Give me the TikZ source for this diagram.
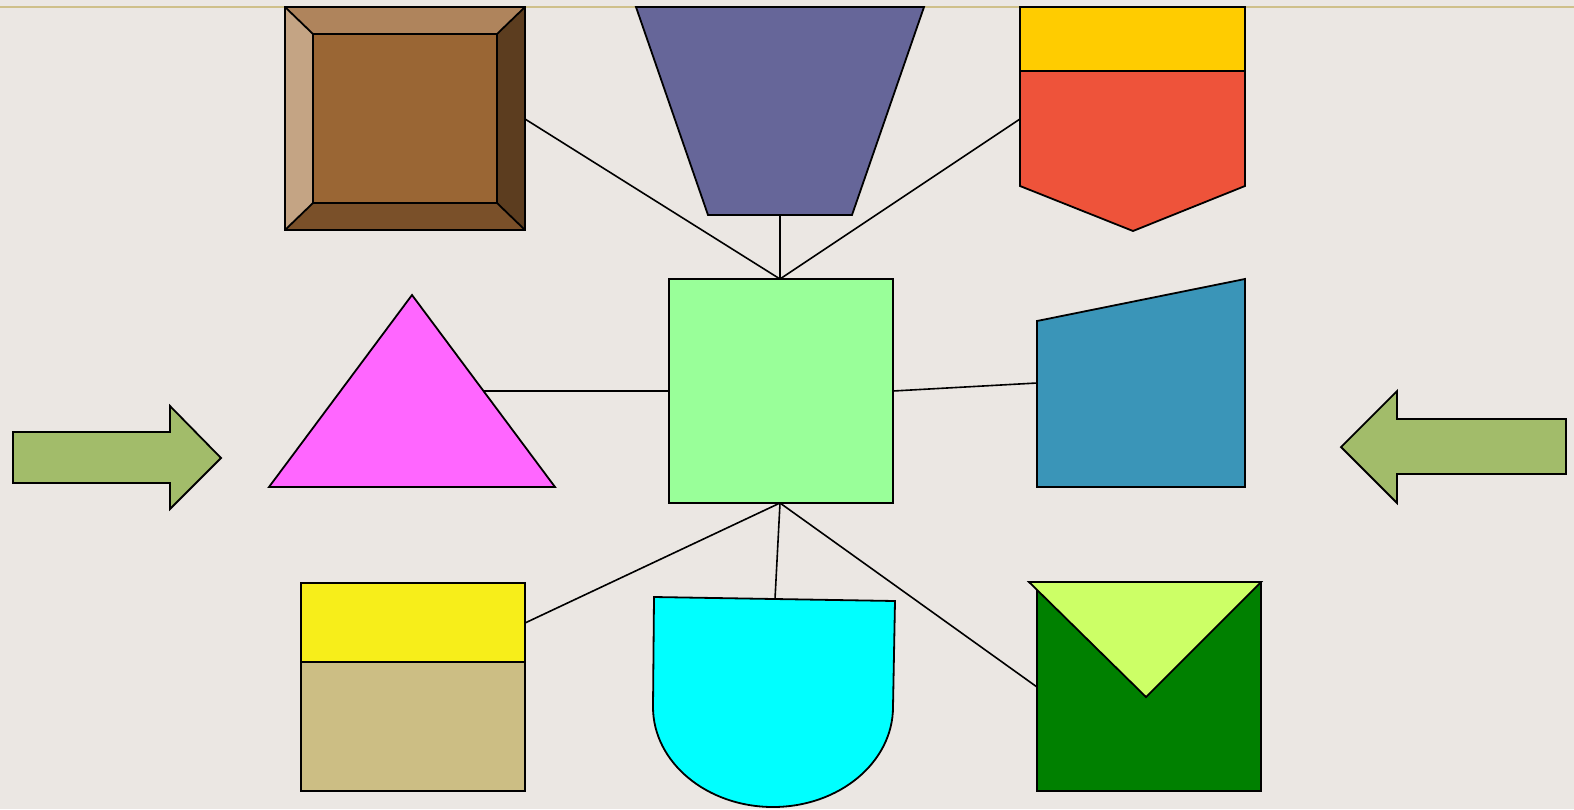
\documentclass[tikz,border=0pt]{standalone}
\begin{document}
\begin{tikzpicture}[x=0.5pt,y=-0.5pt,line join=miter,
  shp/.style={draw=black,line width=0.9pt},
  conn/.style={draw=black,line width=0.8pt}]
\definecolor{bg}{HTML}{EBE7E3}
\definecolor{topline}{HTML}{CFC08A}
\definecolor{bvT}{HTML}{AF845C}
\definecolor{bvL}{HTML}{C4A484}
\definecolor{bvR}{HTML}{5C3D1F}
\definecolor{bvB}{HTML}{7A5029}
\definecolor{bvC}{HTML}{9A6634}
\definecolor{trap}{HTML}{666699}
\definecolor{shY}{HTML}{FFCC00}
\definecolor{shR}{HTML}{EE533A}
\definecolor{cen}{HTML}{99FF99}
\definecolor{tri}{HTML}{FF66FF}
\definecolor{blu}{HTML}{3A95B8}
\definecolor{arr}{HTML}{A2BC6A}
\definecolor{boxY}{HTML}{F7EE1A}
\definecolor{boxT}{HTML}{CCBE84}
\definecolor{cyn}{HTML}{00FFFF}
\definecolor{envG}{HTML}{008000}
\definecolor{envL}{HTML}{CCFF66}
\useasboundingbox (0,0) rectangle (1574,809);
\fill[bg] (0,0) rectangle (1574,809);
\draw[topline,line width=0.8pt] (0,7) -- (1574,7);
% named connection points
\coordinate (ctop) at (780,279);
\coordinate (cbot) at (780,503);
\coordinate (cleft) at (669,391);
\coordinate (cright) at (893,391);
\coordinate (bevel) at (525,119);
\coordinate (trapb) at (780,215);
\coordinate (shield) at (1020,119);
\coordinate (trip) at (484,391);
\coordinate (bluep) at (1037,383);
\coordinate (boxp) at (525,623);
\coordinate (cynp) at (775,599);
\coordinate (envp) at (1037,687);
% connectors (behind shapes)
\draw[conn] (ctop) -- (bevel);
\draw[conn] (ctop) -- (trapb);
\draw[conn] (ctop) -- (shield);
\draw[conn] (cleft) -- (trip);
\draw[conn] (cright) -- (bluep);
\draw[conn] (cbot) -- (boxp);
\draw[conn] (cbot) -- (cynp);
\draw[conn] (cbot) -- (envp);
% bevel box
\fill[bvT] (285,7) -- (525,7) -- (497,34) -- (313,34) -- cycle;
\fill[bvL] (285,7) -- (313,34) -- (313,203) -- (285,230) -- cycle;
\fill[bvR] (525,7) -- (525,230) -- (497,203) -- (497,34) -- cycle;
\fill[bvB] (285,230) -- (313,203) -- (497,203) -- (525,230) -- cycle;
\fill[bvC] (313,34) rectangle (497,203);
\draw[shp] (285,7) rectangle (525,230);
\draw[shp] (313,34) rectangle (497,203);
\draw[shp] (285,7) -- (313,34) (525,7) -- (497,34) (285,230) -- (313,203) (525,230) -- (497,203);
% trapezoid
\draw[shp,fill=trap] (636,7) -- (924,7) -- (852,215) -- (708,215) -- cycle;
% shield
\draw[shp,fill=shR] (1020,71) -- (1245,71) -- (1245,186) -- (1133,231) -- (1020,186) -- cycle;
\draw[shp,fill=shY] (1020,7) rectangle (1245,71);
% central square
\draw[shp,fill=cen] (669,279) rectangle (893,503);
% triangle
\draw[shp,fill=tri] (412,295) -- (555,487) -- (269,487) -- cycle;
% blue quad
\draw[shp,fill=blu] (1037,321) -- (1245,279) -- (1245,487) -- (1037,487) -- cycle;
% left arrow (pointing right)
\draw[shp,fill=arr] (13,432) -- (170,432) -- (170,406) -- (221,458) -- (170,509) -- (170,483) -- (13,483) -- cycle;
% right arrow (pointing left)
\draw[shp,fill=arr] (1566,419) -- (1397,419) -- (1397,391) -- (1341,447) -- (1397,503) -- (1397,474) -- (1566,474) -- cycle;
% yellow / tan box
\draw[shp,fill=boxT] (301,662) rectangle (525,791);
\draw[shp,fill=boxY] (301,583) rectangle (525,662);
% cyan shape
\draw[shp,fill=cyn] (654,597) -- (895,601) -- (893,707)
  arc[start angle=0,end angle=-180,x radius=120,y radius=-100] -- cycle;
% envelope
\draw[shp,fill=envG] (1037,583) rectangle (1261,791);
\draw[shp,fill=envL] (1029,582) -- (1261,582) -- (1146,697) -- cycle;
\end{tikzpicture}
\end{document}
